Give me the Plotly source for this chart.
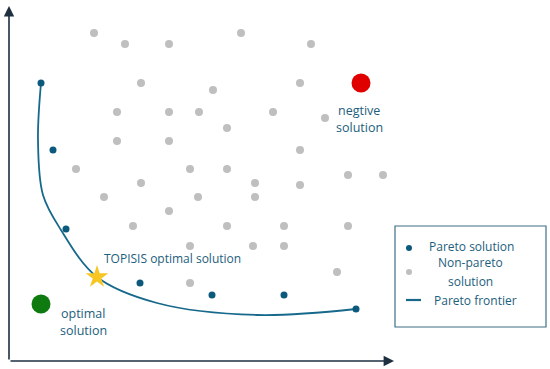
import plotly.graph_objects as go

# Diagram space: x to the right, y downward (0..550 x 0..369)
grey_x = [94, 241, 125, 169, 311, 141, 300, 213, 117, 169, 199, 273, 325, 227, 117, 169, 300,
          76, 190, 227, 348, 383, 141, 255, 300, 104, 198, 255, 169, 133, 227, 284, 348,
          190, 253, 284, 337, 190]
grey_y = [33, 33, 44, 44, 44, 83, 83, 90, 112, 112, 112, 112, 118, 128, 141, 141, 150,
          169, 169, 169, 175, 175, 183, 183, 185, 197, 197, 197, 211, 226, 226, 226, 226,
          246, 246, 246, 272, 283]

pareto_x = [41, 53, 66, 140, 212, 284, 356]
pareto_y = [83, 150, 229, 283, 295, 295, 309]

frontier_x = [41, 38, 43, 61, 97, 157, 257, 356]
frontier_y = [83, 140, 195, 230, 277, 303, 315, 309]

ideal = (41, 304)      # optimal solution
negative = (361, 83)   # negative solution
topsis = (97, 277)     # TOPSIS optimal solution

BLUE = "#0B5A7E"
LINE = "#17698C"
TEXT = "#1D5E7C"
GREY = "#BFBFBF"
FONT = "Open Sans"

fig = go.Figure()
fig.add_trace(go.Scatter(x=frontier_x, y=frontier_y, mode="lines",
                         line=dict(color=LINE, width=1.8, shape="spline", smoothing=1.0),
                         hoverinfo="skip"))
fig.add_trace(go.Scatter(x=grey_x, y=grey_y, mode="markers",
                         marker=dict(color=GREY, size=8), hoverinfo="skip"))
fig.add_trace(go.Scatter(x=pareto_x, y=pareto_y, mode="markers",
                         marker=dict(color=BLUE, size=7), hoverinfo="skip"))
fig.add_trace(go.Scatter(x=[negative[0]], y=[negative[1]], mode="markers",
                         marker=dict(color="#E00000", size=19), hoverinfo="skip"))
fig.add_trace(go.Scatter(x=[ideal[0]], y=[ideal[1]], mode="markers",
                         marker=dict(color="#0E7A10", size=19), hoverinfo="skip"))
fig.add_trace(go.Scatter(x=[topsis[0]], y=[topsis[1]], mode="markers",
                         marker=dict(color="#F7C623", size=17, symbol="star"), hoverinfo="skip"))

# Legend (drawn manually)
fig.add_shape(type="rect", x0=395, y0=226, x1=546, y1=327, layer="below",
              line=dict(color="#3F6F86", width=1.2), fillcolor="white")
fig.add_trace(go.Scatter(x=[409], y=[248], mode="markers",
                         marker=dict(color=BLUE, size=6), hoverinfo="skip"))
fig.add_trace(go.Scatter(x=[409], y=[272], mode="markers",
                         marker=dict(color=GREY, size=6), hoverinfo="skip"))
fig.add_shape(type="line", x0=406, x1=421, y0=300, y1=300,
              line=dict(color=LINE, width=2.2))

ann = [
    dict(x=428, y=246, text="Pareto solution", xanchor="left", size=12),
    dict(x=470, y=262, text="Non-pareto", xanchor="center", size=12),
    dict(x=470, y=281, text="solution", xanchor="center", size=12),
    dict(x=433, y=300, text="Pareto frontier", xanchor="left", size=12),
    dict(x=359, y=110, text="negtive", xanchor="center", size=12.5),
    dict(x=359, y=127, text="solution", xanchor="center", size=12.5),
    dict(x=83, y=313, text="optimal", xanchor="center", size=12.5),
    dict(x=83, y=330, text="solution", xanchor="center", size=12.5),
    dict(x=103, y=258, text="TOPISIS optimal solution", xanchor="left", size=12),
]
for a in ann:
    fig.add_annotation(x=a["x"], y=a["y"], text=a["text"], xanchor=a["xanchor"],
                       yanchor="middle", showarrow=False, borderpad=0,
                       font=dict(family=FONT, size=a["size"], color=TEXT))

# Axes with arrows
fig.add_annotation(x=9, y=6, ax=9, ay=361, xref="x", yref="y", axref="x", ayref="y",
                   text="", showarrow=True, arrowhead=2, arrowsize=1.3, arrowwidth=1.6,
                   arrowcolor="#1E2F40")
fig.add_annotation(x=394, y=361, ax=9, ay=361, xref="x", yref="y", axref="x", ayref="y",
                   text="", showarrow=True, arrowhead=2, arrowsize=1.3, arrowwidth=1.6,
                   arrowcolor="#1E2F40")

fig.update_layout(
    width=550, height=369,
    margin=dict(l=0, r=0, t=0, b=0),
    paper_bgcolor="white", plot_bgcolor="white",
    showlegend=False,
    xaxis=dict(range=[0, 550], visible=False, fixedrange=True),
    yaxis=dict(range=[369, 0], visible=False, fixedrange=True),
)
fig.write_html("out.html", config={"displayModeBar": False},
               post_script="document.body.style.margin='0';document.body.style.overflow='hidden';")
